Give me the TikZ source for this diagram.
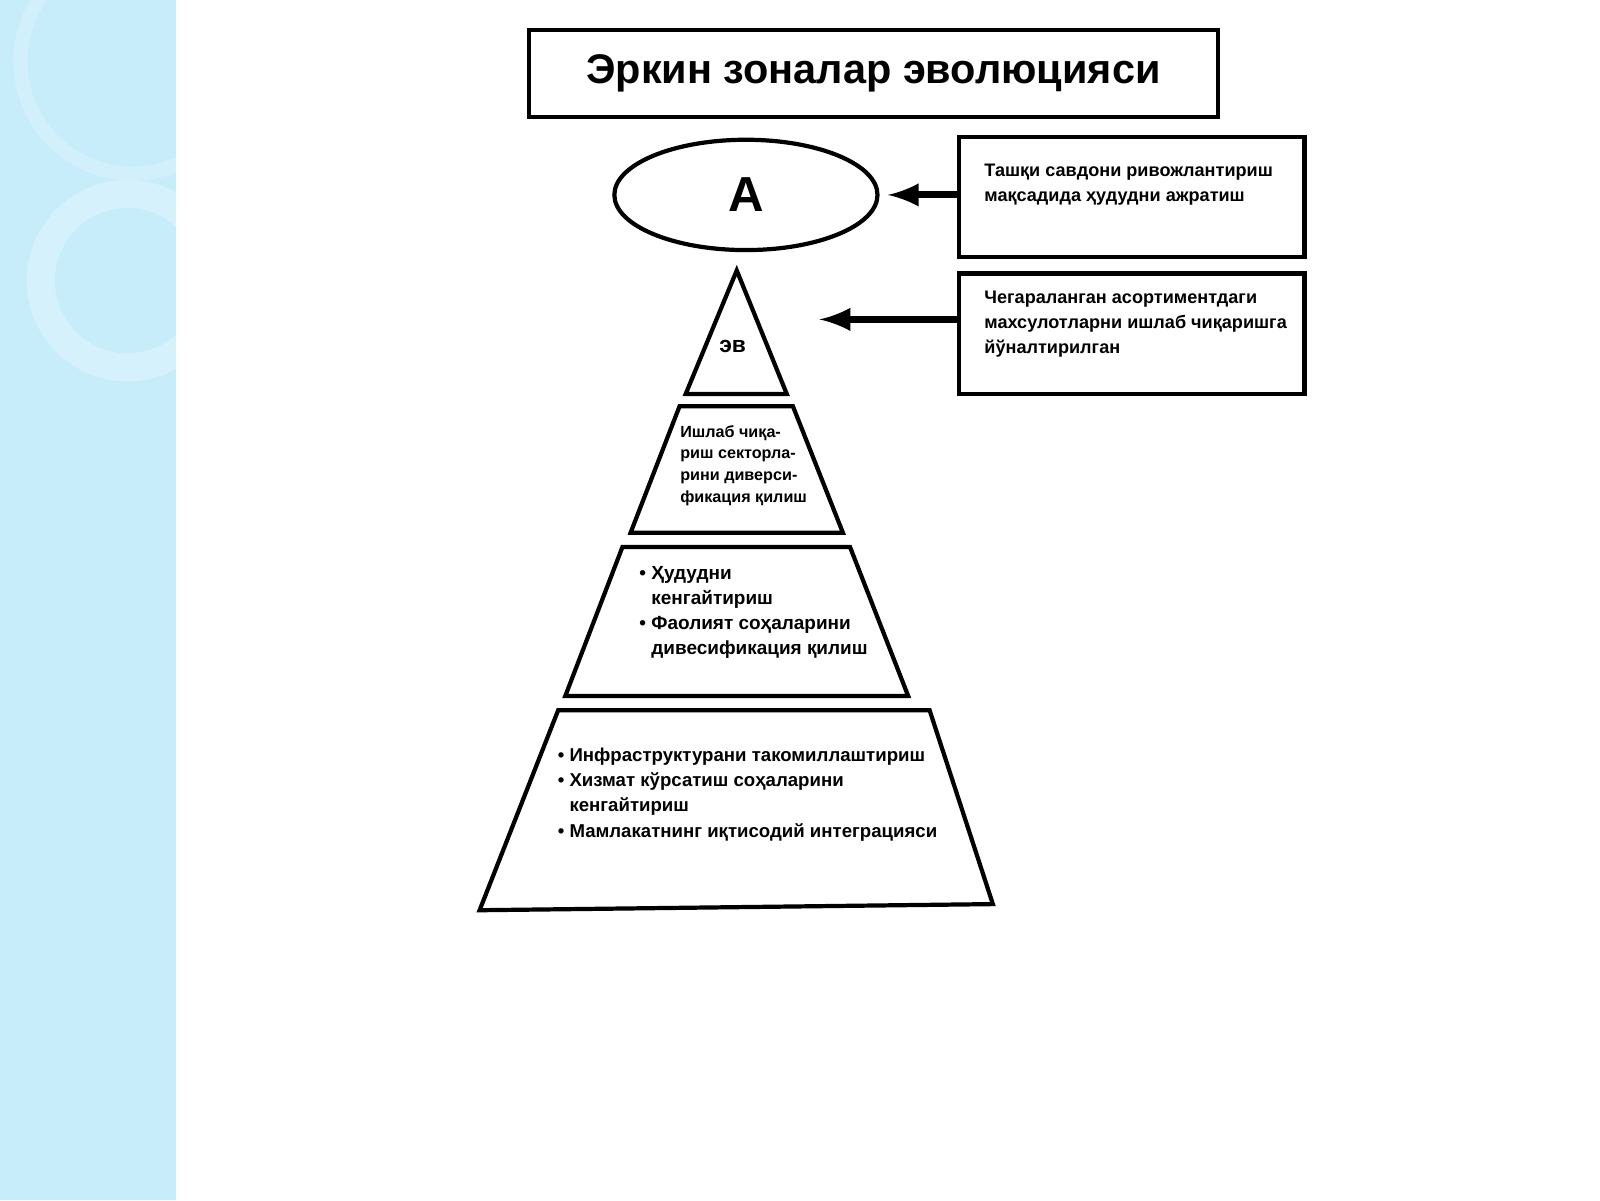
\documentclass[tikz,border=0pt]{standalone}
\usetikzlibrary{shapes.geometric}
\usepackage{fontspec}
\setmainfont{Liberation Sans}
\begin{document}
\begin{tikzpicture}[x=0.010204cm,y=-0.010204cm,
  shp/.style={draw=black,line width=1.2pt,fill=white},
  arr/.style={-latex,line width=2pt},
  txt/.style={font=\bfseries\fontsize{5.15}{7}\selectfont,align=left,anchor=north west,inner sep=0pt}]
\useasboundingbox (0,0) rectangle (1568,1176);
\fill[white] (0,0) rectangle (1568,1176);
\fill[cyan!22!white] (0,0) rectangle (172,1176);
\draw[white,line width=8pt,opacity=0.25] (125,275) circle (85);
\draw[white,line width=4pt,opacity=0.2] (130,60) circle (110);
\node[shp,minimum width=196pt,minimum height=24.7pt,font=\bfseries\fontsize{11.8}{13}\selectfont] (title) at (856,72) {Эркин зоналар эволюцияси};
\node[shp,ellipse,minimum width=74.9pt,minimum height=31.4pt,font=\bfseries\fontsize{14}{16}\selectfont] (A) at (731,191) {А};
\node[shp,minimum width=98.4pt,minimum height=34.3pt] (b1) at (1109,193) {};
\node[txt] (t1) at (964,160) {Ташқи савдони ривожлантириш\\мақсадида ҳудудни ажратиш};
\node[shp,minimum width=98.4pt,minimum height=34.3pt] (b2) at (1109,327) {};
\node[txt] (t2) at (964,285) {Чегараланган асортиментдаги\\махсулотларни ишлаб чиқаришга\\йўналтирилган};
\coordinate (p1) at (870,191);
\coordinate (p2) at (803,313);
\draw[arr] (b1.west |- p1) -- (p1);
\draw[arr] (b1.west |- p2) -- (p2);
\draw[shp] (722,265) -- (771,386) -- (672,386) -- cycle;
\node[font=\bfseries\fontsize{6.5}{8}\selectfont] (ev) at (718,340) {эв};
\draw[shp] (666,398) -- (777,398) -- (826,522) -- (618,522) -- cycle;
\node[txt,font=\bfseries\fontsize{4.6}{6.2}\selectfont] (t3) at (666,416) {Ишлаб чиқа-\\риш секторла-\\рини диверси-\\фикация қилиш};
\draw[shp] (610,536) -- (833,536) -- (890,682) -- (554,682) -- cycle;
\node[txt,font=\bfseries\fontsize{5.4}{7.2}\selectfont] (t4) at (626,554) {• Ҳудудни\\\phantom{• }кенгайтириш\\• Фаолият соҳаларини\\\phantom{• }дивесификация қилиш};
\draw[shp] (547,696) -- (911,696) -- (973,886) -- (470,892) -- cycle;
\node[txt,font=\bfseries\fontsize{5.3}{7.2}\selectfont] (t5) at (546,732) {• Инфраструктурани такомиллаштириш\\• Хизмат кўрсатиш соҳаларини\\\phantom{• }кенгайтириш\\• Мамлакатнинг иқтисодий интеграцияси};
\end{tikzpicture}
\end{document}
